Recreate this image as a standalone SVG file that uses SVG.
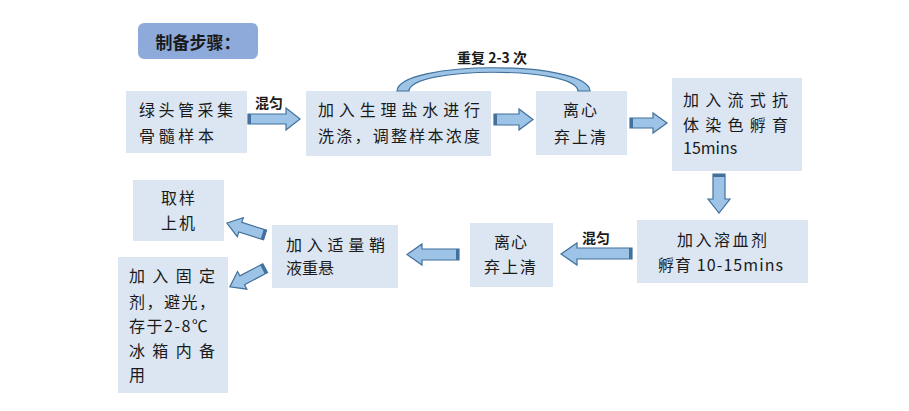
<svg xmlns="http://www.w3.org/2000/svg" width="909" height="411" viewBox="0 0 909 411">
<style>
.box{fill:#DCE6F2;}
.t{font-family:"Noto Sans CJK SC","Liberation Sans",sans-serif;font-size:16px;fill:#1a1a1a;}
.lb{font-family:"Noto Sans CJK SC","Liberation Sans",sans-serif;font-size:14px;font-weight:bold;fill:#1a1a1a;}
.arr{fill:#9DC3E6;stroke:#41719C;stroke-width:1.2;stroke-linejoin:miter;}
.tail{fill:#41719C;}
</style>
<rect width="909" height="411" fill="#ffffff"/>
<g id="title">
<rect x="138" y="23" width="120" height="36" rx="6" fill="#8EAADB"/>
<text x="198" y="49" text-anchor="middle" font-family="Noto Sans CJK SC,Liberation Sans,sans-serif" font-size="17" font-weight="bold" fill="#1a1a1a">制备步骤：</text>
</g>
<g id="n1"><rect class="box" x="126" y="91" width="121" height="62"/>
<text class="t" x="139" y="116" textLength="94" lengthAdjust="spacing">绿头管采集</text>
<text class="t" x="139" y="142" textLength="75" lengthAdjust="spacing">骨髓样本</text></g>
<g id="n2"><rect class="box" x="306" y="91" width="185" height="65"/>
<text class="t" x="318" y="116" textLength="162" lengthAdjust="spacing">加入生理盐水进行</text>
<text class="t" x="318" y="142" textLength="162" lengthAdjust="spacing">洗涤，调整样本浓度</text></g>
<g id="n3"><rect class="box" x="536" y="91" width="91" height="64"/>
<text class="t" x="581" y="116" text-anchor="middle" letter-spacing="2">离心</text>
<text class="t" x="581" y="143" text-anchor="middle" letter-spacing="2">弃上清</text></g>
<g id="n4"><rect class="box" x="672" y="78" width="130" height="93"/>
<text class="t" x="683" y="106" textLength="105" lengthAdjust="spacing">加入流式抗</text>
<text class="t" x="683" y="131" textLength="105" lengthAdjust="spacing">体染色孵育</text>
<text class="t" x="683" y="154">15mins</text></g>
<g id="n5"><rect class="box" x="637" y="220" width="171" height="63"/>
<text class="t" x="677" y="246" textLength="90" lengthAdjust="spacing">加入溶血剂</text>
<text class="t" x="658" y="271" textLength="125" lengthAdjust="spacing">孵育 10-15mins</text></g>
<g id="n6"><rect class="box" x="470" y="223" width="83" height="64"/>
<text class="t" x="511" y="248" text-anchor="middle" letter-spacing="1">离心</text>
<text class="t" x="511" y="273" text-anchor="middle" letter-spacing="2">弃上清</text></g>
<g id="n7"><rect class="box" x="272" y="225" width="126" height="63"/>
<text class="t" x="286" y="251" textLength="99" lengthAdjust="spacing">加入适量鞘</text>
<text class="t" x="286" y="274">液重悬</text></g>
<g id="n8"><rect class="box" x="133" y="180" width="91" height="61"/>
<text class="t" x="179" y="204" text-anchor="middle" letter-spacing="2">取样</text>
<text class="t" x="179" y="229" text-anchor="middle" letter-spacing="2">上机</text></g>
<g id="n9"><rect class="box" x="118" y="257" width="110" height="136"/>
<text class="t" x="129" y="282" textLength="86" lengthAdjust="spacing">加入固定</text>
<text class="t" x="129" y="308" textLength="86" lengthAdjust="spacing">剂，避光，</text>
<text class="t" x="129" y="332" letter-spacing="1.5">存于2-8℃</text>
<text class="t" x="129" y="357" textLength="86" lengthAdjust="spacing">冰箱内备</text>
<text class="t" x="129" y="381">用</text></g>
<g id="connectors">
<path class="arr" d="M397,91 C399,60 588,60 590,91 L578,91 C576,66 411,66 409,91 Z"/>
<text class="lb" x="492" y="63" text-anchor="middle">重复 2-3 次</text>
<polygon class="arr" points="248,114 286,114 286,108 300,119 286,130 286,124 248,124"/>
<rect class="tail" x="248" y="114" width="3" height="10"/>
<text class="lb" x="255" y="108">混匀</text>
<polygon class="arr" points="494,114 519,114 519,109 533,119.5 519,130 519,125 494,125"/>
<rect class="tail" x="494" y="114" width="3" height="11"/>
<polygon class="arr" points="630,118 653,118 653,113 667,123 653,133 653,128 630,128"/>
<rect class="tail" x="630" y="118" width="3" height="10"/>
<polygon class="arr" points="713,174 725,174 725,199 730,199 719,213 708,199 713,199"/>
<rect class="tail" x="713" y="174" width="12" height="3"/>
<polygon class="arr" points="632,248 577,248 577,243 561,254 577,265 577,259 632,259"/>
<rect class="tail" x="629" y="248" width="3" height="11"/>
<text class="lb" x="582" y="243">混匀</text>
<polygon class="arr" points="459,249 422,249 422,244 407,254.5 422,265 422,260 459,260"/>
<rect class="tail" x="456" y="249" width="3" height="11"/>
<g transform="translate(246,229) rotate(17.5)">
<polygon class="arr" points="-20,0 -6,-10 -6,-5 20,-5 20,5 -6,5 -6,10"/>
<rect class="tail" x="17" y="-5" width="3" height="10"/></g>
<g transform="translate(247.5,277.5) rotate(-28)">
<polygon class="arr" points="-20,0 -6,-10 -6,-5 20,-5 20,5 -6,5 -6,10"/>
<rect class="tail" x="17" y="-5" width="3" height="10"/></g>
</g>
</svg>
